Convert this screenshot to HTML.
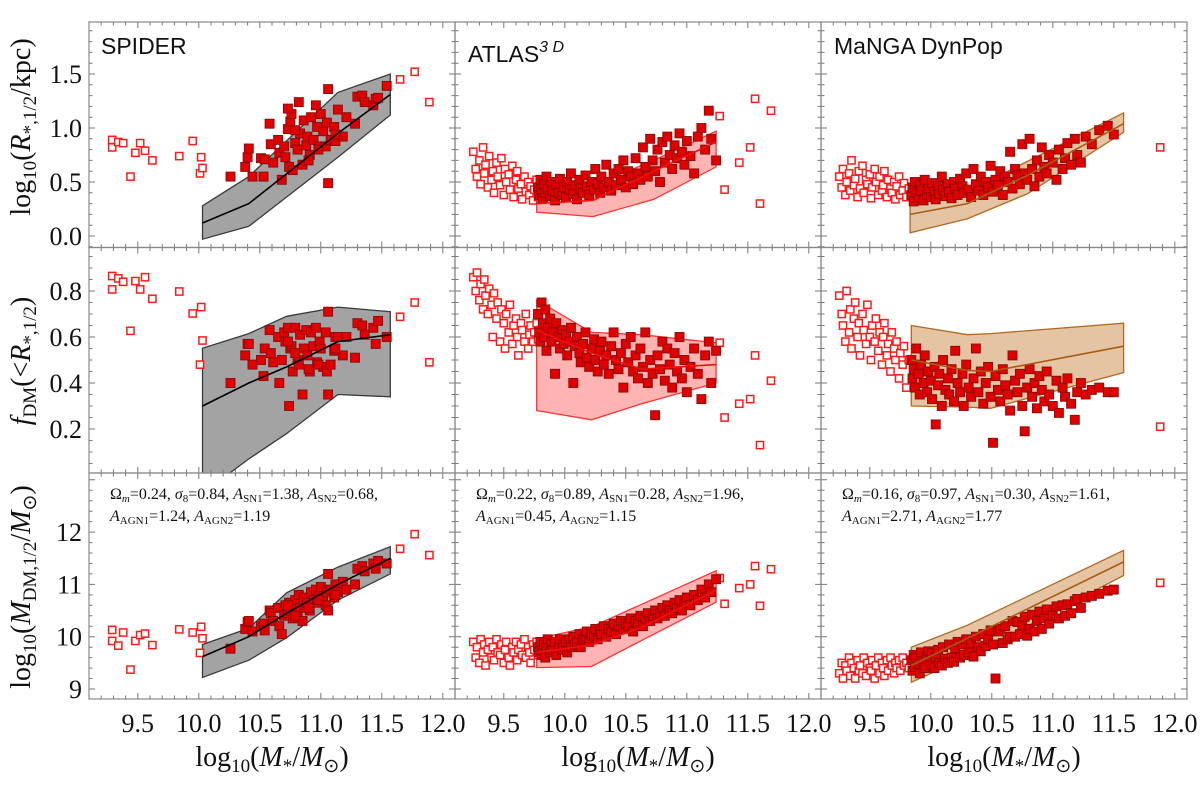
<!DOCTYPE html>
<html><head><meta charset="utf-8"><style>
html,body{margin:0;padding:0;background:#fff;}
svg{display:block;}
.tk{font-family:"Liberation Serif",serif;font-size:26px;fill:#111;}
.ttl{font-family:"Liberation Serif",serif;font-size:28px;fill:#111;}
.pt{font-family:"Liberation Sans",sans-serif;font-size:23px;fill:#111;}
.par{font-family:"Liberation Serif",serif;font-size:16px;fill:#111;}
</style></head><body>
<svg id="fig" width="1200" height="791" viewBox="0 0 1200 791" xmlns="http://www.w3.org/2000/svg">
<defs id="defs"></defs>
<g id="bands"></g>
<g id="pts"></g>
<g id="lines"></g>
<g id="frames"></g>
<g id="labels">
<text class="pt" x="101" y="54">SPIDER</text>
<text class="pt" x="468" y="62">ATLAS<tspan font-size="16" dy="-10" font-style="italic">3 D</tspan></text>
<text class="pt" x="834" y="54">MaNGA DynPop</text>

<text class="par" x="110" y="499">Ω<tspan font-style="italic" font-size="11" dy="3">m</tspan><tspan dy="-3">=0.24, </tspan><tspan font-style="italic">σ</tspan><tspan font-size="11" dy="3">8</tspan><tspan dy="-3">=0.84, </tspan><tspan font-style="italic">A</tspan><tspan font-size="11" dy="3">SN1</tspan><tspan dy="-3">=1.38, </tspan><tspan font-style="italic">A</tspan><tspan font-size="11" dy="3">SN2</tspan><tspan dy="-3">=0.68,</tspan></text>
<text class="par" x="110" y="521"><tspan font-style="italic">A</tspan><tspan font-size="11" dy="3">AGN1</tspan><tspan dy="-3">=1.24, </tspan><tspan font-style="italic">A</tspan><tspan font-size="11" dy="3">AGN2</tspan><tspan dy="-3">=1.19</tspan></text>
<text class="par" x="476" y="499">Ω<tspan font-style="italic" font-size="11" dy="3">m</tspan><tspan dy="-3">=0.22, </tspan><tspan font-style="italic">σ</tspan><tspan font-size="11" dy="3">8</tspan><tspan dy="-3">=0.89, </tspan><tspan font-style="italic">A</tspan><tspan font-size="11" dy="3">SN1</tspan><tspan dy="-3">=0.28, </tspan><tspan font-style="italic">A</tspan><tspan font-size="11" dy="3">SN2</tspan><tspan dy="-3">=1.96,</tspan></text>
<text class="par" x="476" y="521"><tspan font-style="italic">A</tspan><tspan font-size="11" dy="3">AGN1</tspan><tspan dy="-3">=0.45, </tspan><tspan font-style="italic">A</tspan><tspan font-size="11" dy="3">AGN2</tspan><tspan dy="-3">=1.15</tspan></text>
<text class="par" x="842" y="499">Ω<tspan font-style="italic" font-size="11" dy="3">m</tspan><tspan dy="-3">=0.16, </tspan><tspan font-style="italic">σ</tspan><tspan font-size="11" dy="3">8</tspan><tspan dy="-3">=0.97, </tspan><tspan font-style="italic">A</tspan><tspan font-size="11" dy="3">SN1</tspan><tspan dy="-3">=0.30, </tspan><tspan font-style="italic">A</tspan><tspan font-size="11" dy="3">SN2</tspan><tspan dy="-3">=1.61,</tspan></text>
<text class="par" x="842" y="521"><tspan font-style="italic">A</tspan><tspan font-size="11" dy="3">AGN1</tspan><tspan dy="-3">=2.71, </tspan><tspan font-style="italic">A</tspan><tspan font-size="11" dy="3">AGN2</tspan><tspan dy="-3">=1.77</tspan></text>

<text class="ttl" transform="translate(30,127) rotate(-90)" text-anchor="middle">log<tspan font-size="19" dy="6">10</tspan><tspan dy="-6">(</tspan><tspan font-style="italic">R</tspan><tspan font-size="19" dy="6">*,1/2</tspan><tspan dy="-6">/kpc)</tspan></text>
<text class="ttl" transform="translate(30,361) rotate(-90)" text-anchor="middle"><tspan font-style="italic">f</tspan><tspan font-size="19" dy="6">DM</tspan><tspan dy="-6">(&lt;</tspan><tspan font-style="italic">R</tspan><tspan font-size="19" dy="6">*,1/2</tspan><tspan dy="-6">)</tspan></text>
<text class="ttl" transform="translate(30,587) rotate(-90)" text-anchor="middle">log<tspan font-size="19" dy="6">10</tspan><tspan dy="-6">(</tspan><tspan font-style="italic">M</tspan><tspan font-size="19" dy="6">DM,1/2</tspan><tspan dy="-6">/</tspan><tspan font-style="italic">M</tspan><tspan font-size="19" dy="6">⊙</tspan><tspan dy="-6">)</tspan></text>

<text class="ttl" x="272" y="766" text-anchor="middle">log<tspan font-size="19" dy="6">10</tspan><tspan dy="-6">(</tspan><tspan font-style="italic">M</tspan><tspan font-size="19" dy="6">*</tspan><tspan dy="-6">/</tspan><tspan font-style="italic">M</tspan><tspan font-size="19" dy="6">⊙</tspan><tspan dy="-6">)</tspan></text>
<text class="ttl" x="638" y="766" text-anchor="middle">log<tspan font-size="19" dy="6">10</tspan><tspan dy="-6">(</tspan><tspan font-style="italic">M</tspan><tspan font-size="19" dy="6">*</tspan><tspan dy="-6">/</tspan><tspan font-style="italic">M</tspan><tspan font-size="19" dy="6">⊙</tspan><tspan dy="-6">)</tspan></text>
<text class="ttl" x="1004" y="766" text-anchor="middle">log<tspan font-size="19" dy="6">10</tspan><tspan dy="-6">(</tspan><tspan font-style="italic">M</tspan><tspan font-size="19" dy="6">*</tspan><tspan dy="-6">/</tspan><tspan font-style="italic">M</tspan><tspan font-size="19" dy="6">⊙</tspan><tspan dy="-6">)</tspan></text>
</g>
</svg>
<script>
// ---------- data ----------
const xTickLabels = ["9.5","10.0","10.5","11.0","11.5","12.0"];
const yTickLabels1 = ["0.0","0.5","1.0","1.5"];
const yTickLabels2 = ["0.2","0.4","0.6","0.8"];
const yTickLabels3 = ["9","10","11","12"];

// SPIDER
const spOpenX = [9.29,9.29,9.34,9.38,9.44,9.48,9.52,9.56,9.62,9.84,9.95,10.01,10.02,10.03,11.65,11.77,11.89];
const spOpenR = [0.89,0.82,0.87,0.86,0.55,0.77,0.86,0.79,0.70,0.74,0.88,0.58,0.73,0.63,1.45,1.52,1.24];
const spOpenF = [0.865,0.807,0.855,0.84,0.627,0.843,0.807,0.86,0.766,0.798,0.702,0.48,0.73,0.585,0.688,0.75,0.49];
const spOpenM = [10.13,9.92,9.83,10.08,9.37,9.92,10.03,10.06,9.84,10.14,10.08,9.69,10.19,9.97,11.68,11.96,11.56];
const spX = [10.26,10.38,10.40,10.41,10.44,10.51,10.53,10.54,10.58,10.59,10.61,10.65,10.66,10.68,10.70,10.71,10.73,10.74,10.75,10.76,10.77,10.79,10.81,10.82,10.83,10.85,10.86,10.88,10.89,10.91,10.92,10.94,10.96,10.97,10.99,11.00,11.02,11.04,11.05,11.06,11.06,11.08,11.11,11.12,11.14,11.18,11.21,11.28,11.30,11.34,11.36,11.43,11.45,11.47,11.54,10.73,10.98,10.90,10.79,11.12];
const spR = [0.55,0.64,0.73,0.81,0.55,0.72,0.55,0.71,1.04,0.85,0.68,0.89,0.77,0.52,0.83,0.73,0.99,0.64,1.06,1.13,0.61,0.86,0.80,1.24,0.95,0.66,1.07,0.84,0.92,0.75,1.10,0.89,1.21,1.01,0.83,1.13,0.97,0.83,1.05,1.36,0.49,0.89,1.01,0.88,1.17,0.92,1.10,1.04,1.29,1.30,1.24,1.21,1.27,1.28,1.39,1.18,0.80,0.70,0.98,0.94];
const spF = [0.40,0.52,0.57,0.57,0.48,0.50,0.43,0.55,0.63,0.53,0.49,0.60,0.40,0.50,0.62,0.58,0.64,0.30,0.55,0.56,0.45,0.64,0.50,0.48,0.61,0.35,0.55,0.63,0.52,0.45,0.62,0.56,0.64,0.49,0.58,0.55,0.47,0.62,0.45,0.71,0.35,0.48,0.54,0.60,0.60,0.52,0.60,0.51,0.66,0.65,0.61,0.64,0.57,0.67,0.60,0.58,0.48,0.46,0.53,0.55];
const spM = [9.77,10.15,10.28,10.3,10.1,10.2,10.25,10.12,10.5,10.45,10.3,10.55,10.2,10.05,10.4,10.6,10.45,10.65,10.5,10.6,10.35,10.7,10.45,10.8,10.55,10.3,10.75,10.6,10.65,10.5,10.85,10.7,10.9,10.65,10.8,10.95,10.75,10.6,10.85,11.2,10.5,10.9,10.75,11.0,10.85,11.05,10.9,11.0,11.3,11.35,11.25,11.4,11.3,11.45,11.4,10.6,10.7,10.55,10.4,10.8];
const spBandX1 = [10.03,10.41,11.14,11.57];
const spLo1 = [-0.03,0.09,0.73,1.12];
const spMed1 = [0.12,0.30,0.95,1.31];
const spHi1 = [0.28,0.55,1.33,1.50];
const spBandX2 = [10.03,10.41,10.72,11.14,11.57];
const spLo2 = [-0.08,0.07,0.18,0.35,0.34];
const spMed2 = [0.30,0.40,0.47,0.58,0.61];
const spHi2 = [0.551,0.615,0.69,0.73,0.71];
const spBandX3 = [10.03,10.41,10.72,11.14,11.57];
const spLo3 = [9.22,9.55,9.98,10.70,11.20];
const spMed3 = [9.62,10.0,10.45,11.0,11.5];
const spHi3 = [9.85,10.16,10.84,11.33,11.72];

// ATLAS3D
const atOpenX = [9.25,9.27,9.28,9.30,9.31,9.33,9.34,9.35,9.37,9.38,9.40,9.41,9.42,9.44,9.45,9.47,9.48,9.50,9.51,9.52,9.54,9.55,9.57,9.58,9.60,9.61,9.62,9.64,9.65,9.67,9.68,9.70,9.71,9.72,9.74,9.75,9.77,9.78,9.80,9.82,11.27,11.56,11.69,11.52,11.43,11.31,11.60];
const atOpenR = [0.78,0.62,0.55,0.70,0.48,0.82,0.58,0.66,0.45,0.74,0.52,0.60,0.40,0.68,0.55,0.47,0.72,0.38,0.62,0.50,0.57,0.43,0.65,0.36,0.52,0.60,0.44,0.48,0.34,0.55,0.41,0.50,0.38,0.46,0.33,0.43,0.52,0.36,0.45,0.40,1.11,1.27,1.16,0.82,0.68,0.43,0.30];
const atOpenF = [0.86,0.80,0.88,0.76,0.83,0.72,0.85,0.78,0.70,0.81,0.74,0.60,0.79,0.68,0.75,0.58,0.72,0.66,0.55,0.70,0.62,0.74,0.57,0.65,0.68,0.60,0.52,0.66,0.63,0.58,0.70,0.55,0.61,0.65,0.58,0.62,0.66,0.59,0.63,0.60,0.575,0.52,0.41,0.33,0.31,0.25,0.13];
const atOpenM = [9.9,9.6,9.8,9.5,9.95,9.7,9.85,9.45,9.75,9.9,9.6,9.8,9.55,9.95,9.7,9.65,9.85,9.5,9.75,9.9,9.6,9.45,9.8,9.7,9.9,9.55,9.75,9.85,9.65,9.95,9.6,9.8,9.7,9.5,9.85,9.75,9.9,9.65,9.8,9.7,11.12,11.35,11.29,11.0,10.93,10.63,10.59];
const atX = [9.78,9.79,9.80,9.81,9.82,9.83,9.84,9.85,9.86,9.88,9.89,9.90,9.92,9.93,9.95,9.96,9.98,9.99,10.01,10.02,10.04,10.05,10.07,10.08,10.10,10.12,10.13,10.15,10.17,10.18,10.20,10.22,10.24,10.25,10.27,10.29,10.30,10.32,10.34,10.36,10.38,10.40,10.42,10.44,10.46,10.48,10.50,10.52,10.54,10.56,10.58,10.60,10.62,10.64,10.66,10.68,10.70,10.72,10.74,10.76,10.78,10.80,10.82,10.84,10.86,10.88,10.90,10.92,10.94,10.96,10.98,11.00,11.03,11.06,11.09,11.12,11.15,11.18,11.20,11.24];
const atR = [0.45,0.38,0.52,0.42,0.35,0.48,0.40,0.55,0.44,0.37,0.50,0.42,0.33,0.47,0.40,0.53,0.38,0.45,0.36,0.50,0.43,0.58,0.39,0.47,0.34,0.52,0.44,0.40,0.56,0.46,0.38,0.50,0.43,0.62,0.48,0.40,0.55,0.45,0.66,0.50,0.42,0.58,0.47,0.62,0.52,0.70,0.45,0.60,0.55,0.48,0.72,0.58,0.52,0.82,0.64,0.55,0.90,0.70,0.60,0.80,0.50,0.87,0.68,0.92,0.75,0.62,0.84,0.72,0.95,0.78,0.66,0.88,0.74,0.58,0.92,1.00,0.80,1.16,0.90,0.70];
const atF = [0.70,0.62,0.58,0.75,0.66,0.60,0.72,0.54,0.64,0.68,0.58,0.62,0.44,0.66,0.60,0.55,0.63,0.57,0.61,0.52,0.58,0.64,0.40,0.56,0.60,0.53,0.49,0.57,0.62,0.51,0.47,0.55,0.59,0.50,0.45,0.54,0.58,0.48,0.52,0.44,0.56,0.62,0.50,0.46,0.53,0.38,0.57,0.49,0.60,0.45,0.52,0.42,0.55,0.47,0.62,0.40,0.50,0.44,0.26,0.52,0.46,0.58,0.41,0.55,0.48,0.38,0.53,0.45,0.60,0.42,0.50,0.36,0.47,0.55,0.44,0.33,0.52,0.58,0.40,0.54];
const atM = [9.8,9.7,9.9,9.65,9.75,9.85,9.6,9.8,9.95,9.7,9.85,9.75,9.9,9.65,9.8,9.95,9.75,9.85,9.9,9.7,9.95,9.8,10.0,9.85,9.9,10.05,9.8,9.95,10.0,10.1,9.9,10.05,10.0,10.15,9.95,10.1,10.05,10.2,10.0,10.15,10.1,10.25,10.05,10.2,10.3,10.15,10.25,10.2,10.35,10.1,10.3,10.25,10.4,10.2,10.35,10.45,10.3,10.4,10.5,10.35,10.45,10.55,10.4,10.6,10.5,10.45,10.65,10.55,10.7,10.5,10.65,10.75,10.6,10.8,10.7,10.9,10.75,11.0,10.85,11.1];
const atBandX1 = [9.77,10.23,10.73,11.24];
const atLo1 = [0.22,0.18,0.34,0.64];
const atMed1 = [0.30,0.33,0.60,0.87];
const atHi1 = [0.36,0.47,0.70,0.97];
const atBandX2 = [9.77,10.22,10.63,11.24];
const atLo2 = [0.28,0.24,0.31,0.40];
const atMed2 = [0.63,0.53,0.46,0.48];
const atHi2 = [0.76,0.62,0.61,0.575];
const atBandX3 = [9.77,10.22,10.63,11.24];
const atLo3 = [9.41,9.43,9.93,10.66];
const atMed3 = [9.70,9.84,10.18,10.89];
const atHi3 = [9.96,10.19,10.62,11.26];

// MaNGA DynPop
const mgOpenX = [9.25,9.27,9.28,9.30,9.31,9.33,9.34,9.35,9.37,9.38,9.40,9.41,9.42,9.44,9.45,9.47,9.48,9.50,9.51,9.52,9.54,9.55,9.57,9.58,9.60,9.61,9.62,9.64,9.65,9.67,9.68,9.70,9.71,9.72,9.74,9.75,9.77,9.78,9.80,9.82,11.88];
const mgOpenR = [0.55,0.45,0.62,0.38,0.50,0.58,0.42,0.70,0.47,0.53,0.36,0.60,0.44,0.65,0.40,0.52,0.48,0.57,0.35,0.45,0.62,0.50,0.38,0.55,0.42,0.47,0.60,0.36,0.52,0.44,0.40,0.50,0.34,0.46,0.55,0.38,0.42,0.49,0.36,0.44,0.82];
const mgOpenF = [0.78,0.70,0.65,0.58,0.80,0.62,0.72,0.55,0.68,0.75,0.60,0.66,0.52,0.70,0.63,0.57,0.74,0.60,0.50,0.65,0.58,0.68,0.54,0.62,0.48,0.60,0.66,0.52,0.57,0.45,0.62,0.55,0.50,0.58,0.42,0.53,0.48,0.56,0.38,0.50,0.21];
const mgOpenM = [9.3,9.5,9.2,9.45,9.35,9.6,9.25,9.5,9.4,9.2,9.55,9.35,9.45,9.3,9.6,9.25,9.5,9.4,9.35,9.55,9.2,9.45,9.6,9.3,9.5,9.4,9.25,9.55,9.35,9.6,9.45,9.3,9.5,9.4,9.55,9.35,9.6,9.45,9.5,9.4,11.03];
const mgX = [9.84,9.85,9.86,9.87,9.88,9.90,9.91,9.92,9.94,9.95,9.97,9.98,10.00,10.01,10.03,10.04,10.06,10.07,10.09,10.10,10.12,10.14,10.15,10.17,10.19,10.20,10.22,10.24,10.26,10.27,10.29,10.31,10.33,10.35,10.37,10.39,10.41,10.43,10.45,10.47,10.49,10.51,10.53,10.55,10.57,10.59,10.61,10.63,10.65,10.67,10.69,10.71,10.73,10.75,10.77,10.79,10.81,10.83,10.85,10.87,10.89,10.91,10.93,10.95,10.97,11.00,11.03,11.05,11.08,11.10,11.12,11.15,11.18,11.20,11.23,11.27,11.32,11.38,11.45,11.50];
const mgR = [0.38,0.45,0.32,0.50,0.40,0.35,0.47,0.42,0.33,0.52,0.38,0.44,0.36,0.49,0.41,0.34,0.46,0.39,0.55,0.43,0.37,0.48,0.41,0.35,0.50,0.44,0.38,0.53,0.46,0.40,0.58,0.43,0.36,0.62,0.48,0.42,0.55,0.38,0.50,0.45,0.65,0.41,0.52,0.47,0.60,0.38,0.55,0.50,0.78,0.44,0.62,0.56,0.48,0.85,0.58,0.52,0.90,0.62,0.46,0.70,0.55,0.82,0.64,0.58,0.75,0.68,0.52,0.80,0.62,0.72,0.86,0.66,0.90,0.75,0.68,0.92,0.85,0.98,1.02,0.94];
const mgF = [0.50,0.42,0.46,0.38,0.55,0.44,0.35,0.48,0.40,0.52,0.36,0.45,0.41,0.33,0.47,0.22,0.39,0.44,0.30,0.50,0.37,0.42,0.35,0.46,0.32,0.54,0.40,0.36,0.44,0.30,0.48,0.38,0.34,0.42,0.55,0.36,0.45,0.31,0.40,0.47,0.34,0.14,0.43,0.37,0.32,0.46,0.39,0.35,0.28,0.52,0.41,0.36,0.44,0.30,0.19,0.38,0.46,0.34,0.40,0.29,0.43,0.37,0.32,0.45,0.35,0.30,0.41,0.27,0.38,0.34,0.42,0.31,0.24,0.36,0.40,0.35,0.37,0.38,0.36,0.36];
const mgM = [9.55,9.35,9.65,9.42,9.6,9.48,9.3,9.7,9.52,9.4,9.62,9.72,9.45,9.68,9.4,9.6,9.75,9.5,9.45,9.8,9.58,9.5,9.85,9.6,9.52,9.78,9.9,9.6,9.85,9.65,9.95,9.7,9.88,9.62,10.0,9.8,9.72,10.05,9.82,9.95,10.12,9.85,9.2,10.1,10.15,9.88,10.2,9.95,10.0,10.3,10.0,10.28,10.05,10.22,10.38,10.02,10.15,10.42,10.1,10.3,10.48,10.15,10.35,10.52,10.25,10.4,10.58,10.35,10.6,10.4,10.62,10.45,10.68,10.72,10.55,10.75,10.78,10.82,10.88,10.9];
const mgBandX1 = [9.83,10.30,10.79,11.58];
const mgLo1 = [0.03,0.16,0.39,0.96];
const mgMed1 = [0.20,0.30,0.56,1.04];
const mgHi1 = [0.33,0.41,0.69,1.14];
const mgBandX2 = [9.84,10.30,10.49,11.58];
const mgLo2 = [0.30,0.295,0.29,0.445];
const mgMed2 = [0.50,0.455,0.45,0.56];
const mgHi2 = [0.65,0.61,0.615,0.66];
const mgBandX3 = [9.84,10.30,11.58];
const mgLo3 = [9.13,9.61,11.17];
const mgMed3 = [9.45,9.97,11.43];
const mgHi3 = [9.80,10.22,11.65];

// ---------- axes ----------
const NS = "http://www.w3.org/2000/svg";
const PX0 = 89, PW = 366, XMIN = 9.1, XK = 122;
const rowTop = [22, 247.5, 473], rowBot = [247.5, 473, 699];
function xs(col, v){ return PX0 + col*PW + (v - XMIN)*XK; }
function ys(row, v){
  if(row===0) return 236 - 108*v;
  if(row===1) return 429 - (v-0.2)*230;
  return 689 - (v-9)*52.3;
}
function mk(tag, attrs, parent){
  const e = document.createElementNS(NS, tag);
  for(const k in attrs) e.setAttribute(k, attrs[k]);
  parent.appendChild(e); return e;
}
const defs = document.getElementById('defs');
const gB = document.getElementById('bands'), gP = document.getElementById('pts'),
      gL = document.getElementById('lines'), gF = document.getElementById('frames');
for(let r=0;r<3;r++) for(let c=0;c<3;c++){
  const cp = mk('clipPath', {id:'cp'+r+c}, defs);
  mk('rect', {x:PX0+c*PW, y:rowTop[r], width:PW, height:rowBot[r]-rowTop[r]}, cp);
}

const styles = [
  {fill:'#a3a3a3', edge:'#3a3a3a', med:'#000'},
  {fill:'#ffb0b0', edge:'#ff3333', med:'#f01010'},
  {fill:'#e5c4a3', edge:'#b06a20', med:'#a85c10'}
];

function drawBand(col,row,bx,lo,md,hi,name){
  const st = styles[col];
  const g = mk('g', {'clip-path':'url(#cp'+row+col+')'}, gB);
  
  
  let d = '';
  bx.forEach((v,i)=>{ d += (i?'L':'M') + xs(col,v).toFixed(1)+','+ys(row,hi[i]).toFixed(1); });
  for(let i=bx.length-1;i>=0;i--) d += 'L'+xs(col,bx[i]).toFixed(1)+','+ys(row,lo[i]).toFixed(1);
  d += 'Z';
  mk('path', {d:d, fill:st.fill, 'fill-opacity':col===1?0.95:1, stroke:st.edge, 'stroke-width':1.3}, g);
  const gl = mk('g', {'clip-path':'url(#cp'+row+col+')'}, gL);
  let m = '';
  bx.forEach((v,i)=>{ m += (i?'L':'M') + xs(col,v).toFixed(1)+','+ys(row,md[i]).toFixed(1); });
  const ln = mk('path', {d:m, fill:'none', stroke:st.med, 'stroke-width':1.6}, gl);
  
  
}

function drawPts(col,row,X,Y,filled,name){
  const g = mk('g', {'clip-path':'url(#cp'+row+col+')'}, gP);
  
  
  const n = Math.min(X.length, Y.length);
  for(let i=0;i<n;i++){
    const cx = xs(col,X[i]), cy = ys(row,Y[i]);
    let s;
    if(filled) s = mk('rect', {x:(cx-4.5).toFixed(1), y:(cy-4.5).toFixed(1), width:9, height:9, fill:'#e00000', stroke:'#8a0a0a', 'stroke-width':0.9}, g);
    else s = mk('rect', {x:(cx-3.6).toFixed(1), y:(cy-3.6).toFixed(1), width:7.2, height:7.2, fill:'#fff', stroke:'#ff1a1a', 'stroke-width':1.5}, g);
    
    
  }
}

const cols = [
  {name:'spider', ox:spOpenX, oy:[spOpenR,spOpenF,spOpenM], fx:spX, fy:[spR,spF,spM],
   b:[[spBandX1,spLo1,spMed1,spHi1],[spBandX2,spLo2,spMed2,spHi2],[spBandX3,spLo3,spMed3,spHi3]]},
  {name:'atlas', ox:atOpenX, oy:[atOpenR,atOpenF,atOpenM], fx:atX, fy:[atR,atF,atM],
   b:[[atBandX1,atLo1,atMed1,atHi1],[atBandX2,atLo2,atMed2,atHi2],[atBandX3,atLo3,atMed3,atHi3]]},
  {name:'manga', ox:mgOpenX, oy:[mgOpenR,mgOpenF,mgOpenM], fx:mgX, fy:[mgR,mgF,mgM],
   b:[[mgBandX1,mgLo1,mgMed1,mgHi1],[mgBandX2,mgLo2,mgMed2,mgHi2],[mgBandX3,mgLo3,mgMed3,mgHi3]]}
];
const rowNames = ['size','fdm','mdm'];
cols.forEach((C,c)=>{
  for(let r=0;r<3;r++){
    const nm = C.name+'-'+rowNames[r];
    drawBand(c,r,C.b[r][0],C.b[r][1],C.b[r][2],C.b[r][3],nm);
    drawPts(c,r,C.ox,C.oy[r],false,nm+'-open-points');
    drawPts(c,r,C.fx,C.fy[r],true,nm+'-filled-points');
  }
});

// frames and ticks
const yRanges = [[-0.1,2.0,0.1,0.5],[0.0,1.0,0.05,0.2],[8.8,13.2,0.2,1]];
for(let r=0;r<3;r++) for(let c=0;c<3;c++){
  const x0 = PX0+c*PW, y0 = rowTop[r], x1 = x0+PW, y1 = rowBot[r];
  const g = mk('g', {}, gF);
  
  
  let d = '';
  for(let k=0;k<=30;k++){
    const v = XMIN + k*0.1, X = xs(c,v);
    if(X < x0+0.5 || X > x1-0.5) continue;
    const maj = Math.abs(v*2 - Math.round(v*2)) < 1e-6, L = maj?6:3.5;
    d += 'M'+X.toFixed(1)+','+y1+'v-'+L+'M'+X.toFixed(1)+','+y0+'v'+L;
  }
  const [a,b,st,mj] = yRanges[r];
  const nT = Math.round((b-a)/st);
  for(let k=0;k<=nT;k++){
    const v = a + k*st, Y = ys(r,v);
    if(Y < y0+0.5 || Y > y1-0.5) continue;
    const q = v/mj, maj = Math.abs(q-Math.round(q))<1e-6, L = maj?6:3.5;
    d += 'M'+x0+','+Y.toFixed(1)+'h'+L+'M'+x1+','+Y.toFixed(1)+'h-'+L;
  }
  mk('path', {d:d, stroke:'#777', 'stroke-width':1, fill:'none'}, g);
  mk('rect', {x:x0, y:y0, width:PW, height:y1-y0, fill:'none', stroke:'#888', 'stroke-width':1.2}, g);
}

// tick labels
const gLab = document.getElementById('labels');
for(let c=0;c<3;c++){
  xTickLabels.forEach(t=>{
    const e = mk('text', {x:xs(c,parseFloat(t)).toFixed(1), y:732, 'text-anchor':'middle', class:'tk'}, gLab);
    e.textContent = t;
    
    
  });
}
[[yTickLabels1,0],[yTickLabels2,1],[yTickLabels3,2]].forEach(([arr,r])=>{
  arr.forEach(t=>{
    const e = mk('text', {x:82, y:(ys(r,parseFloat(t))+9).toFixed(1), 'text-anchor':'end', class:'tk'}, gLab);
    e.textContent = t;
    
    
  });
});
</script>
</body></html>
